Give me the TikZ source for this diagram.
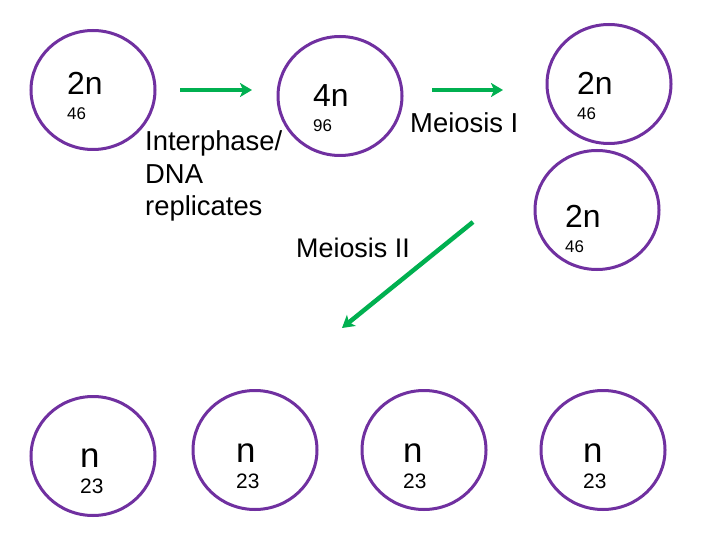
\documentclass[tikz,border=0pt]{standalone}
\usepackage{fontspec}
\setmainfont{Liberation Sans}
\usetikzlibrary{arrows.meta,shapes.geometric}
\definecolor{CellPurple}{HTML}{7030A0}
\definecolor{ArrowGreen}{HTML}{00B050}
\tikzset{
  cell/.style={ellipse, draw=CellPurple, line width=3bp, minimum width=124bp, minimum height=119bp, inner sep=0pt},
  ploidy/.style={anchor=base west, inner sep=0pt, font=\fontsize{32}{38}\selectfont},
  count/.style={anchor=base west, inner sep=0pt, font=\fontsize{17}{20}\selectfont},
  hap/.style={anchor=base west, inner sep=0pt, font=\fontsize{35}{40}\selectfont},
  hapcount/.style={anchor=base west, inner sep=0pt, font=\fontsize{21}{24}\selectfont},
  stage/.style={anchor=base west, inner sep=0pt, align=left, font=\fontsize{27.5}{33}\selectfont},
  arr/.style={-{Stealth[length=12bp,width=14bp,inset=3bp]}, line width=4.5bp, draw=ArrowGreen}
}
\begin{document}
\begin{tikzpicture}[x=1bp,y=-1bp]
\path[fill=white] (0,0) rectangle (720,540);
\useasboundingbox (0,0) rectangle (720,540);
% cells
\node[cell] (c1) at (93,90) {};
\node[cell] (c2) at (340,96) {};
\node[cell] (c3) at (609,84) {};
\node[cell] (c4) at (597,210) {};
\foreach \i/\x/\y in {5/93/456,6/255/450,7/424/450,8/603/450}{\node[cell] (c\i) at (\x,\y) {};}
% labels
\node[ploidy] (p1) at (67,95) {2n};
\node[count] (n1) at (67,120) {46};
\node[ploidy] (p2) at (313,107) {4n};
\node[count] (n2) at (313,132) {96};
\node[ploidy] (p3) at (577,95) {2n};
\node[count] (n3) at (577,120) {46};
\node[ploidy] (p4) at (565,228) {2n};
\node[count] (n4) at (565,253) {46};
\foreach \i/\x/\y in {5/80/467,6/236/462,7/403/462,8/583/462}{
  \node[hap] (p\i) at (\x,\y) {n};
  \node[hapcount] (n\i) at (\x,\y+26) {23};
}
% stages
\node[stage] (interphase) at (145,216) {Interphase/\\DNA\\replicates};
\node[stage] (meiosisI) at (410,133) {Meiosis I};
\node[stage,font=\fontsize{27}{33}\selectfont] (meiosisII) at (296,258) {Meiosis II};
% arrows
\coordinate (a1s) at (180,90);
\coordinate (a1e) at (252,90);
\coordinate (a2s) at (432,90);
\coordinate (a2e) at (503,90);
\coordinate (a3s) at (473,222);
\coordinate (a3e) at (342,328);
\draw[arr] (a1s) -- (a1e);
\draw[arr] (a2s) -- (a2e);
\draw[arr] (a3s) -- (a3e);
\end{tikzpicture}
\end{document}
